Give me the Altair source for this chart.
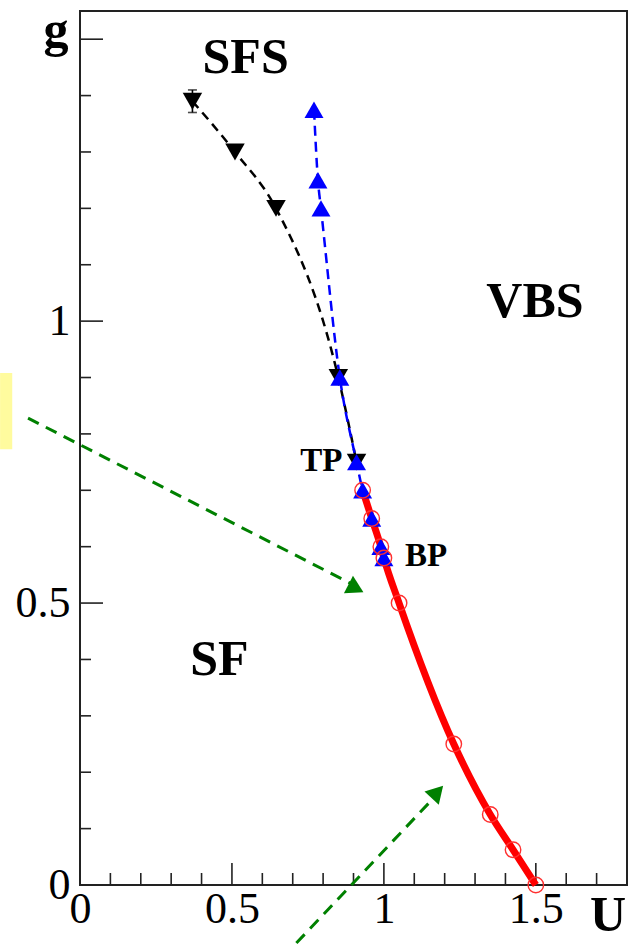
import altair as alt
import pandas as pd

# ---- data ----
black_U = [0.37, 0.51, 0.645, 0.85, 0.91]
black_g = [1.39, 1.30, 1.20, 0.90, 0.75]
err_U = [0.37]
err_lo = [1.37]
err_hi = [1.41]

blue_U = [0.77, 0.783, 0.793, 0.855, 0.91, 0.93, 0.96, 0.99, 1.0]
blue_g = [1.375, 1.25, 1.20, 0.90, 0.75, 0.70, 0.65, 0.60, 0.58]

red_U = [0.93, 0.96, 0.99, 1.0, 1.05, 1.23, 1.35, 1.425, 1.5]
red_g = [0.70, 0.65, 0.60, 0.58, 0.50, 0.25, 0.125, 0.0625, 0.0]

x_major = [0, 0.5, 1, 1.5]
x_minor = [0.1, 0.2, 0.3, 0.4, 0.6, 0.7, 0.8, 0.9, 1.1, 1.2, 1.3, 1.4, 1.6, 1.7]
y_major = [0, 0.5, 1, 1.5]
y_minor = [0.1, 0.2, 0.3, 0.4, 0.6, 0.7, 0.8, 0.9, 1.1, 1.2, 1.3, 1.4]

region_text = ["SFS", "VBS", "SF"]
region_U = [0.545, 1.497, 0.459]
region_g = [1.466, 1.034, 0.399]

point_text = ["TP", "BP"]
point_U = [0.794, 1.139]
point_g = [0.752, 0.583]

# green dashed arrows (start -> end), arrow heads
arrow_id = ["a1", "a1", "a2", "a2"]
arrow_U = [-0.171, 0.89, 0.712, 1.165]
arrow_g = [0.828, 0.535, -0.103, 0.155]
head_U = [0.908, 1.176]
head_g = [0.526, 0.165]
head_angle = [117.6, 42.9]

# yellow highlight box at the left margin
box_U = [-0.263]
box_U2 = [-0.223]
box_g = [0.773]
box_g2 = [0.908]

X = alt.Scale(domain=[0, 1.8], nice=False, zero=False)
Y = alt.Scale(domain=[0, 1.55], nice=False, zero=False)
W, H = 547, 874
FRAME = "#222222"

black = pd.DataFrame({"U": black_U, "g": black_g})
blue = pd.DataFrame({"U": blue_U, "g": blue_g})
red = pd.DataFrame({"U": red_U, "g": red_g})
err = pd.DataFrame({"U": err_U, "lo": err_lo, "hi": err_hi})

black_line = alt.Chart(black).mark_line(
    color="black", strokeWidth=2.5, strokeDash=[9, 6], interpolate="monotone"
).encode(
    x=alt.X("U:Q", scale=X, title=None,
            axis=alt.Axis(values=x_major, format="~g", ticks=False, domain=False,
                          grid=False, labelFont="Liberation Serif", labelFontSize=44,
                          labelPadding=2, labelColor="black", labelFlush=False)),
    y=alt.Y("g:Q", scale=Y, title=None,
            axis=alt.Axis(values=[0, 0.5, 1], format="~g", ticks=False, domain=False,
                          grid=False, labelFont="Liberation Serif", labelFontSize=44,
                          labelPadding=10, labelColor="black", labelFlush=False)),
)
blue_line = alt.Chart(blue).mark_line(
    color="#0000ff", strokeWidth=2.5, strokeDash=[10, 6], interpolate="monotone"
).encode(x=alt.X("U:Q", scale=X), y=alt.Y("g:Q", scale=Y))
red_line = alt.Chart(red).mark_line(
    color="#ff0000", strokeWidth=7, interpolate="monotone"
).encode(x=alt.X("U:Q", scale=X), y=alt.Y("g:Q", scale=Y))

black_pts = alt.Chart(black).mark_point(
    shape="triangle-down", filled=True, color="black", size=380, opacity=1
).encode(x=alt.X("U:Q", scale=X), y=alt.Y("g:Q", scale=Y))
blue_pts = alt.Chart(blue).mark_point(
    shape="triangle-up", filled=True, color="#0000ff", size=360, opacity=1
).encode(x=alt.X("U:Q", scale=X), y=alt.Y("g:Q", scale=Y))
red_pts = alt.Chart(red).mark_point(
    shape="circle", filled=False, color="#ff3030", size=240, strokeWidth=1.4, opacity=1
).encode(x=alt.X("U:Q", scale=X), y=alt.Y("g:Q", scale=Y))

err_bar = alt.Chart(err).mark_rule(color="black", strokeWidth=1.6).encode(
    x=alt.X("U:Q", scale=X), y=alt.Y("lo:Q", scale=Y), y2="hi:Q")
err_cap_lo = alt.Chart(err).mark_tick(color="black", orient="horizontal", size=9, thickness=1.6).encode(
    x=alt.X("U:Q", scale=X), y=alt.Y("lo:Q", scale=Y))
err_cap_hi = alt.Chart(err).mark_tick(color="black", orient="horizontal", size=9, thickness=1.6).encode(
    x=alt.X("U:Q", scale=X), y=alt.Y("hi:Q", scale=Y))

# ticks (inside, left and bottom)
ym = pd.DataFrame({"v": y_major})
yn = pd.DataFrame({"v": y_minor})
xm = pd.DataFrame({"v": x_major})
xn = pd.DataFrame({"v": x_minor})
tick_y_major = alt.Chart(ym).mark_rule(color=FRAME, strokeWidth=1.6).encode(
    y=alt.Y("v:Q", scale=Y), x=alt.value(0), x2=alt.value(23))
tick_y_minor = alt.Chart(yn).mark_rule(color=FRAME, strokeWidth=1.6).encode(
    y=alt.Y("v:Q", scale=Y), x=alt.value(0), x2=alt.value(11))
tick_x_major = alt.Chart(xm).mark_rule(color=FRAME, strokeWidth=1.6).encode(
    x=alt.X("v:Q", scale=X), y=alt.value(H), y2=alt.value(H - 22))
tick_x_minor = alt.Chart(xn).mark_rule(color=FRAME, strokeWidth=1.6).encode(
    x=alt.X("v:Q", scale=X), y=alt.value(H), y2=alt.value(H - 12))

# region labels
regions = pd.DataFrame({"t": region_text, "U": region_U, "g": region_g})
region_lbl = alt.Chart(regions).mark_text(
    font="Liberation Serif", fontSize=50, fontWeight="bold", color="black",
    align="center", baseline="middle"
).encode(x=alt.X("U:Q", scale=X), y=alt.Y("g:Q", scale=Y), text="t:N")

points = pd.DataFrame({"t": point_text, "U": point_U, "g": point_g})
point_lbl = alt.Chart(points).mark_text(
    font="Liberation Serif", fontSize=33, fontWeight="bold", color="black",
    align="center", baseline="middle"
).encode(x=alt.X("U:Q", scale=X), y=alt.Y("g:Q", scale=Y), text="t:N")

# axis titles
g_title = alt.Chart(pd.DataFrame({"t": ["g"]})).mark_text(
    font="Liberation Serif", fontSize=50, fontWeight="bold", color="black",
    align="center", baseline="middle"
).encode(x=alt.value(-24), y=alt.value(20), text="t:N")
u_title = alt.Chart(pd.DataFrame({"t": ["U"]})).mark_text(
    font="Liberation Serif", fontSize=50, fontWeight="bold", color="black",
    align="center", baseline="middle"
).encode(x=alt.value(528), y=alt.value(H + 31), text="t:N")

# arrows
arrows = pd.DataFrame({"id": arrow_id, "U": arrow_U, "g": arrow_g})
arrow_lines = alt.Chart(arrows).mark_line(
    color="#008000", strokeWidth=3, strokeDash=[12, 8]
).encode(x=alt.X("U:Q", scale=X), y=alt.Y("g:Q", scale=Y), detail="id:N")
heads = pd.DataFrame({"U": head_U, "g": head_g, "a": head_angle})
arrow_heads = alt.Chart(heads).mark_point(
    shape="triangle-up", filled=True, color="#008000", size=380, opacity=1
).encode(x=alt.X("U:Q", scale=X), y=alt.Y("g:Q", scale=Y),
         angle=alt.Angle("a:Q", scale=None))

box = pd.DataFrame({"U": box_U, "U2": box_U2, "g": box_g, "g2": box_g2})
box_mark = alt.Chart(box).mark_rect(color="#fffb9e").encode(
    x=alt.X("U:Q", scale=X), x2="U2:Q", y=alt.Y("g:Q", scale=Y), y2="g2:Q")

chart = alt.layer(
    box_mark, black_line, tick_y_major, tick_y_minor, tick_x_major, tick_x_minor,
    blue_line, red_line, black_pts, blue_pts, red_pts,
    err_bar, err_cap_lo, err_cap_hi, region_lbl, point_lbl, g_title, u_title,
    arrow_lines, arrow_heads,
).properties(
    width=W, height=H,
    background="white",
    autosize=alt.AutoSizeParams(type="none"),
    padding={"left": 80, "top": 11, "right": 6, "bottom": 63},
).configure_view(
    stroke=FRAME, strokeWidth=2
)

chart.save("out.html", embed_options={"renderer": "svg", "actions": False})
